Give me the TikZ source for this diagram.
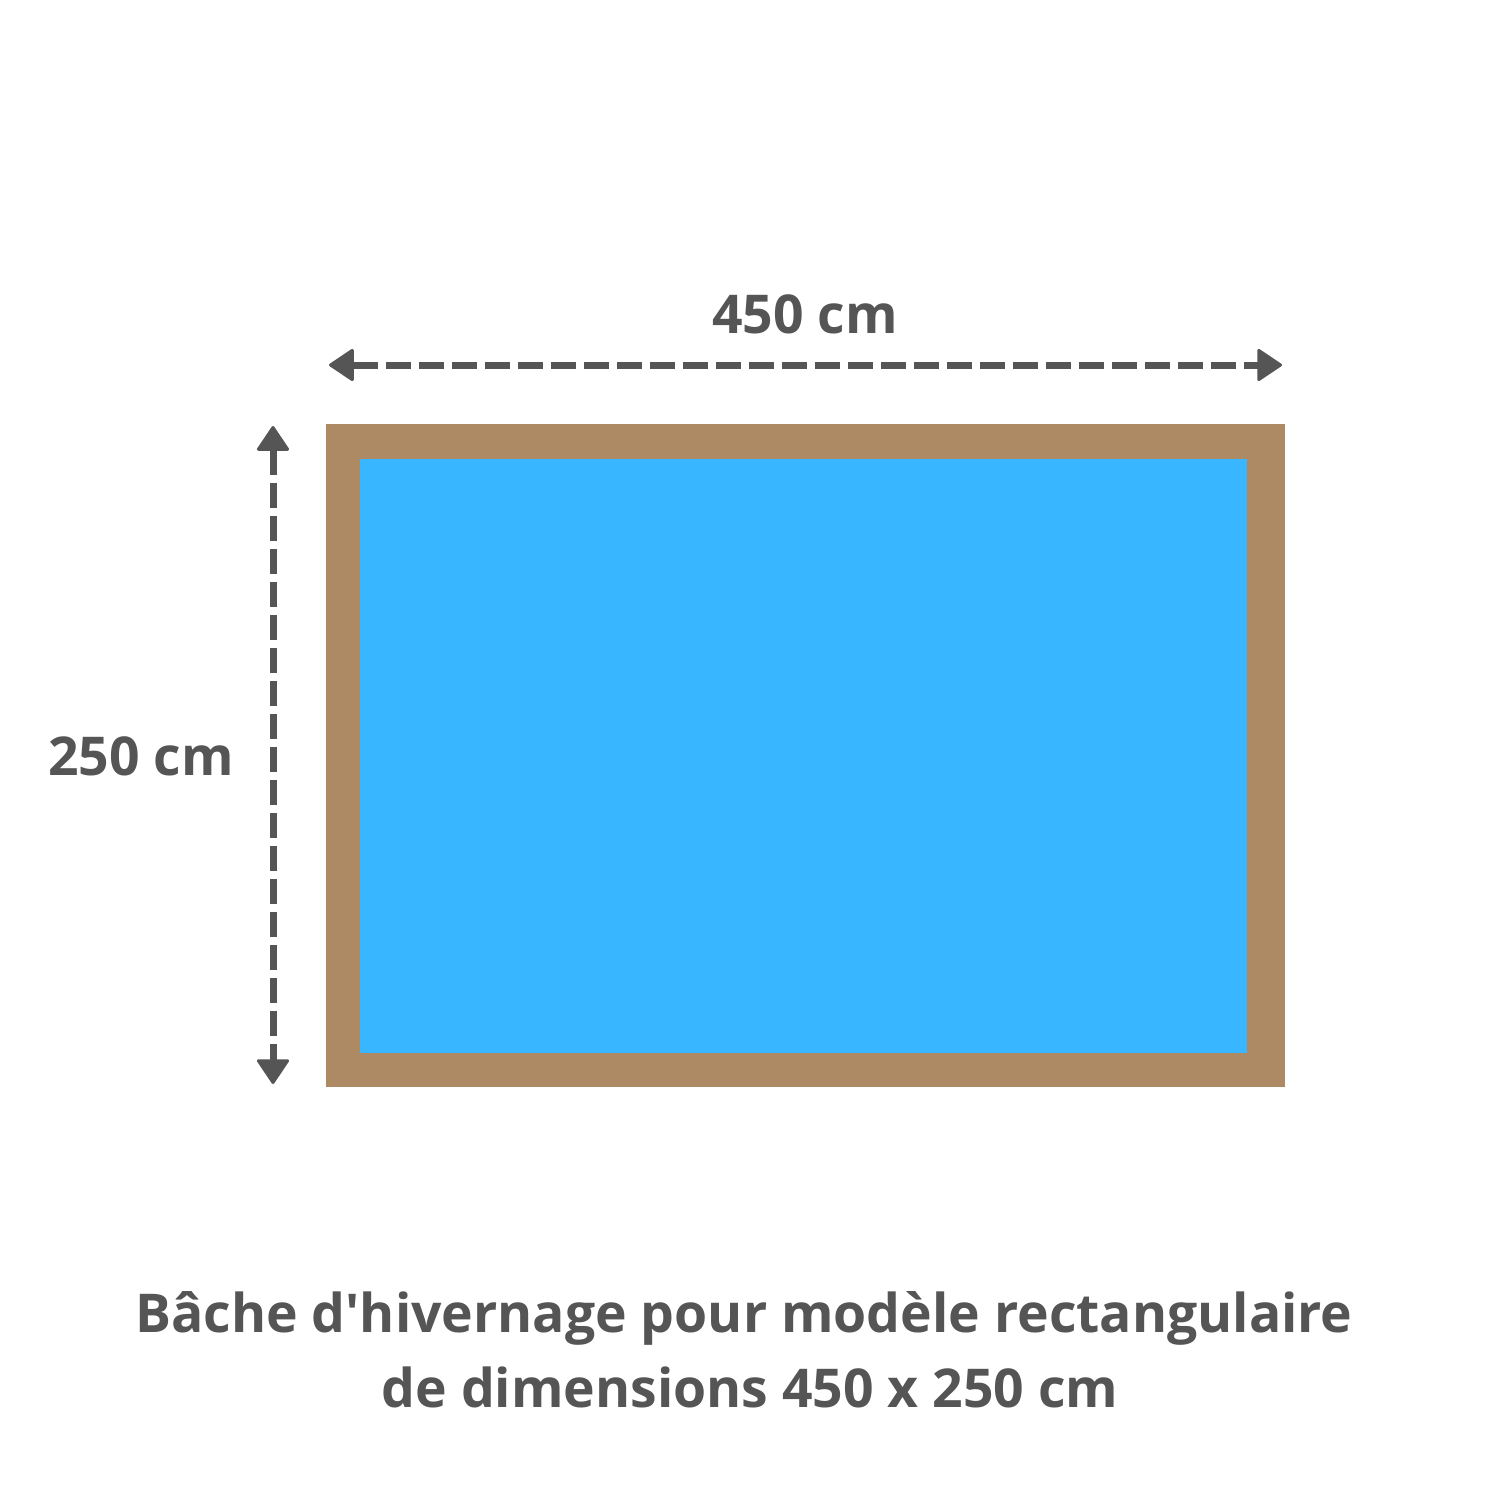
\documentclass[tikz,border=0pt]{standalone}
\usepackage{fontspec}
\setmainfont{Open Sans}
\usetikzlibrary{arrows.meta}
\definecolor{txtgray}{HTML}{555555}
\definecolor{wood}{HTML}{AD8A64}
\definecolor{water}{HTML}{38B6FF}
\tikzset{
  dimtip/.tip={Triangle[length=26bp,width=34bp,round,line width=3bp]},
  dim/.style={draw=txtgray, line width=7bp, dash pattern=on 25bp off 8bp, dimtip-dimtip},
  lbl/.style={text=txtgray, font=\fontsize{53.5bp}{75bp}\selectfont\bfseries, inner sep=0pt, anchor=base},
}
\begin{document}
\begin{tikzpicture}[x=1bp,y=-1bp]
\useasboundingbox[fill=white] (0,0) rectangle (1500,1500);
\fill[wood] (326,424) rectangle (1285,1087);
\node[fill=water, inner sep=0pt, minimum width=887bp, minimum height=594bp, anchor=north west] (pool) at (360,459) {};
\coordinate (hl) at (329,365);
\coordinate (hr) at (1282,365);
\coordinate (vt) at (273,426);
\coordinate (vb) at (273,1084);
\draw[dim] (hl) -- (hr);
\draw[dim] (vt) -- (vb);
\node[lbl] (w) at (805,333) {450 cm};
\node[lbl] (h) at (141,775) {250 cm};
\node[lbl] (c1) at (744,1332) {Bâche d\textquotesingle hivernage pour modèle rectangulaire};
\node[lbl] (c2) at (750,1407) {de dimensions 450 x 250 cm};
\end{tikzpicture}
\end{document}
